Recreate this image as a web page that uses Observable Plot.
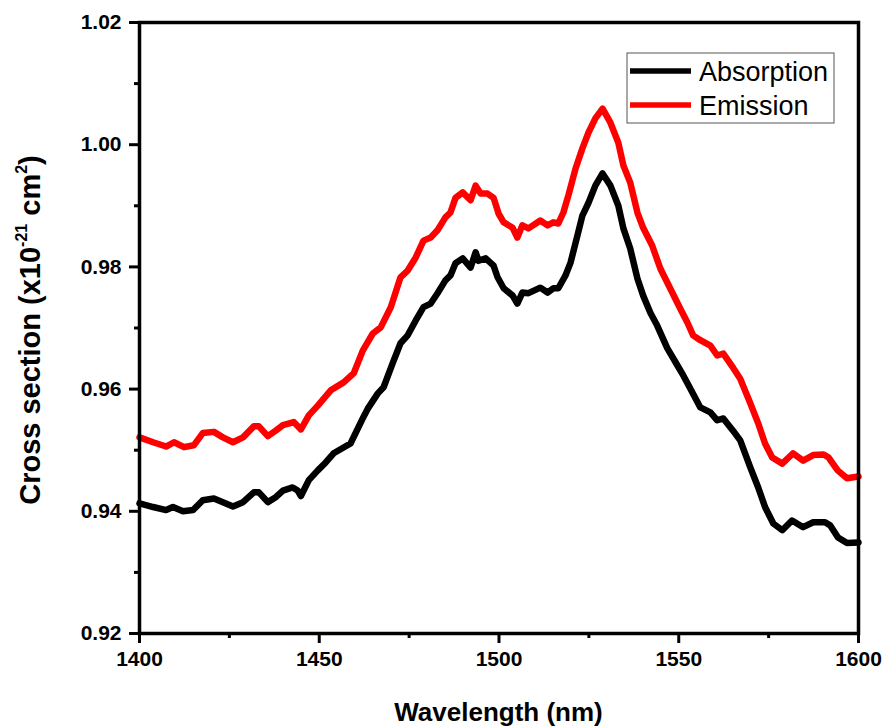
<!DOCTYPE html>
<html>
<head>
<meta charset="utf-8">
<script src="https://cdn.jsdelivr.net/npm/d3@7"></script>
<script src="https://cdn.jsdelivr.net/npm/@observablehq/plot@0.6"></script>
<style>
  html, body { margin: 0; padding: 0; background: #fff; }
  #chart { width: 886px; height: 726px; position: relative; }
  svg { font-family: "Liberation Sans", Arial, sans-serif; }
</style>
</head>
<body>
<div id="chart"></div>
<script>
// ---- Data ----
const absorptionWavelength = [1400,1403.8,1407.4,1409.3,1412.1,1414.9,1417.6,1420.7,1423.2,1426.0,1428.8,1431.8,1433.2,1435.7,1437.9,1439.9,1442.6,1444.0,1444.9,1447.1,1449.6,1451.8,1454.0,1458.7,1462.1,1463.5,1466.3,1467.9,1470.4,1472.6,1474.6,1476.8,1479.0,1481.0,1482.9,1485.1,1486.5,1487.9,1489.9,1492.1,1493.5,1494.3,1496.3,1498.5,1499.6,1501.3,1503.8,1505.1,1506.5,1508.2,1511.5,1513.5,1515.1,1516.5,1518.5,1519.9,1521.8,1523.2,1524.9,1526.8,1528.8,1531.0,1533.2,1534.6,1536.5,1538.5,1540.1,1542.1,1544.0,1546.8,1549.6,1551.3,1553.2,1556.0,1558.8,1560.7,1562.4,1565.1,1567.1,1569.9,1572.1,1574.0,1576.3,1578.8,1581.5,1584.6,1587.4,1590.7,1592.1,1594.3,1596.8,1600];
const absorptionValue = [0.9413,0.9407,0.9402,0.9407,0.9400,0.9402,0.9418,0.9421,0.9415,0.9408,0.9415,0.9431,0.9431,0.9415,0.9423,0.9434,0.9439,0.9434,0.9425,0.9451,0.9467,0.9480,0.9495,0.9511,0.9552,0.9568,0.9593,0.9603,0.9642,0.9675,0.9688,0.9712,0.9734,0.9740,0.9757,0.9778,0.9786,0.9806,0.9814,0.9799,0.9824,0.9810,0.9814,0.9802,0.9783,0.9765,0.9753,0.9740,0.9758,0.9757,0.9766,0.9758,0.9765,0.9765,0.9786,0.9807,0.9851,0.9884,0.9905,0.9933,0.9953,0.9933,0.9900,0.9863,0.9830,0.9781,0.9753,0.9725,0.9704,0.9667,0.9639,0.9622,0.9601,0.9570,0.9562,0.9549,0.9552,0.9532,0.9516,0.9472,0.9439,0.9407,0.9380,0.9369,0.9385,0.9374,0.9382,0.9382,0.9377,0.9357,0.9348,0.9349];

const emissionWavelength = [1400,1403.8,1407.4,1409.6,1412.4,1415.1,1417.6,1420.7,1423.2,1426.0,1428.8,1431.8,1433.2,1435.7,1437.9,1439.9,1442.9,1444.9,1447.1,1449.6,1453.2,1456.8,1459.6,1462.1,1464.9,1467.1,1469.9,1472.6,1474.6,1476.8,1479.0,1481.0,1482.9,1485.1,1486.5,1487.9,1489.9,1492.1,1493.5,1494.9,1496.8,1498.5,1499.9,1501.3,1503.8,1505.1,1506.5,1508.2,1511.5,1513.5,1515.1,1516.5,1517.9,1519.3,1521.3,1523.2,1524.9,1526.8,1528.8,1531.0,1533.2,1534.6,1536.5,1538.5,1540.1,1542.6,1544.9,1547.6,1550.4,1552.4,1554.0,1556.0,1558.8,1560.7,1562.4,1565.1,1567.1,1569.9,1572.1,1574.0,1576.0,1578.8,1581.8,1584.6,1587.4,1590.3,1591.7,1594.2,1596.8,1600];
const emissionValue = [0.9521,0.9513,0.9506,0.9513,0.9505,0.9508,0.9528,0.9530,0.9521,0.9513,0.9521,0.9539,0.9539,0.9523,0.9532,0.9541,0.9546,0.9534,0.9557,0.9573,0.9598,0.9611,0.9626,0.9663,0.9691,0.9701,0.9734,0.9783,0.9794,0.9815,0.9843,0.9848,0.9860,0.9881,0.9889,0.9913,0.9922,0.9909,0.9933,0.9920,0.9920,0.9913,0.9887,0.9873,0.9864,0.9848,0.9868,0.9863,0.9876,0.9868,0.9873,0.9871,0.9889,0.9917,0.9961,0.9994,1.0020,1.0043,1.0059,1.0036,1.0003,0.9966,0.9938,0.9889,0.9864,0.9835,0.9797,0.9765,0.9732,0.9709,0.9688,0.9680,0.9671,0.9655,0.9658,0.9635,0.9617,0.9577,0.9544,0.9511,0.9488,0.9478,0.9495,0.9483,0.9492,0.9493,0.9488,0.9467,0.9454,0.9457];

const seriesNames = ["Absorption", "Emission"];
const seriesColors = ["#000000", "#ff0000"];
const xMajorTicks = [1400, 1450, 1500, 1550, 1600];
const xMinorTicks = [1425, 1475, 1525, 1575];
const yMajorTicks = [0.92, 0.94, 0.96, 0.98, 1.00, 1.02];
const yMinorTicks = [0.93, 0.95, 0.97, 0.99, 1.01];

// ---- Build table ----
const rows = [
  ...absorptionWavelength.map((w, i) => ({series: seriesNames[0], wl: w, v: absorptionValue[i]})),
  ...emissionWavelength.map((w, i) => ({series: seriesNames[1], wl: w, v: emissionValue[i]}))
];

const W = 886, H = 726;
const mL = 139, mR = 28, mT = 22, mB = 93;

const chart = Plot.plot({
  width: W,
  height: H,
  marginLeft: mL,
  marginRight: mR,
  marginTop: mT,
  marginBottom: mB,
  style: {fontFamily: "'Liberation Sans', Arial, sans-serif", background: "white", color: "black"},
  x: {domain: [1400, 1600], label: null},
  y: {domain: [0.92, 1.02], label: null},
  color: {domain: seriesNames, range: seriesColors},
  marks: [
    Plot.line(rows, {x: "wl", y: "v", z: "series", stroke: "series", strokeWidth: 6.5, strokeLinejoin: "round", strokeLinecap: "round"}),
    Plot.axisX({ticks: xMajorTicks, tickSize: 10, tickPadding: 8, strokeWidth: 3, fontSize: 21, fontWeight: "bold", tickFormat: d => String(d), label: null}),
    Plot.axisX({ticks: xMinorTicks, tickSize: 5, strokeWidth: 3, tickFormat: () => "", label: null}),
    Plot.axisY({ticks: yMajorTicks, tickSize: 10, tickPadding: 8, strokeWidth: 3, fontSize: 21, fontWeight: "bold", tickFormat: d3.format(".2f"), label: null}),
    Plot.axisY({ticks: yMinorTicks, tickSize: 5, strokeWidth: 3, tickFormat: () => "", label: null}),
    Plot.frame({stroke: "black", strokeWidth: 3.5})
  ]
});

document.getElementById("chart").appendChild(chart);

const svg = d3.select(chart);

// X axis title
svg.append("text")
  .attr("x", (mL + W - mR) / 2)
  .attr("y", 721)
  .attr("text-anchor", "middle")
  .attr("font-size", 26)
  .attr("font-weight", "bold")
  .attr("fill", "black")
  .text("Wavelength (nm)");

// Y axis title with superscripts
const yt = svg.append("text")
  .attr("transform", `translate(40,330) rotate(-90)`)
  .attr("text-anchor", "middle")
  .attr("font-size", 29)
  .attr("font-weight", "bold")
  .attr("fill", "black");
yt.append("tspan").text("Cross section (x10");
yt.append("tspan").attr("font-size", 16).attr("dy", -13).text("-21");
yt.append("tspan").attr("dy", 13).text(" cm");
yt.append("tspan").attr("font-size", 16).attr("dy", -13).text("2");
yt.append("tspan").attr("dy", 13).text(")");

// Legend
const lg = svg.append("g");
lg.append("rect")
  .attr("x", 627).attr("y", 53).attr("width", 207).attr("height", 70)
  .attr("fill", "white").attr("stroke", "#555").attr("stroke-width", 1);
seriesNames.forEach((name, i) => {
  const cy = 71 + i * 34;
  lg.append("line")
    .attr("x1", 630).attr("x2", 691).attr("y1", cy).attr("y2", cy)
    .attr("stroke", seriesColors[i]).attr("stroke-width", 5.5);
  lg.append("text")
    .attr("x", 699).attr("y", cy + 9.5)
    .attr("text-anchor", "start")
    .attr("font-size", 27)
    .attr("fill", "black")
    .text(name);
});
</script>
</body>
</html>
